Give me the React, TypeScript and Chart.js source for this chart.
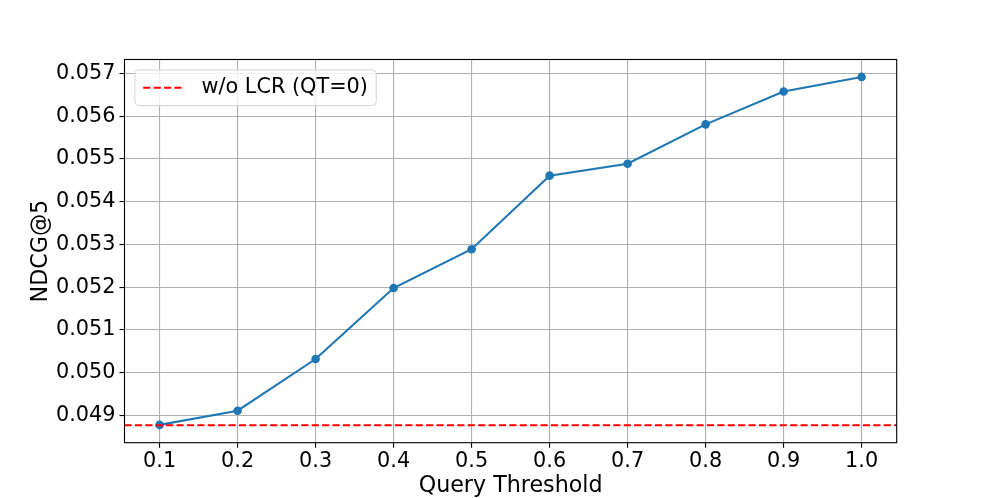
import React, { useEffect, useRef } from "react";
import { Chart, registerables } from "chart.js";

Chart.register(...registerables);

const thresholds = [0.1, 0.2, 0.3, 0.4, 0.5, 0.6, 0.7, 0.8, 0.9, 1.0];
const ndcgValues = [0.04878, 0.04911, 0.05032, 0.05198, 0.05289, 0.05461, 0.05489, 0.05581, 0.05658, 0.05692];
const baselineValue = 0.04877;
const xTickValues = [0.1, 0.2, 0.3, 0.4, 0.5, 0.6, 0.7, 0.8, 0.9, 1.0];
const yTickValues = [0.049, 0.05, 0.051, 0.052, 0.053, 0.054, 0.055, 0.056, 0.057];
const legendLabel = "w/o LCR (QT=0)";
const xTitle = "Query Threshold";
const yTitle = "NDCG@5";

const FONT = '"DejaVu Sans", sans-serif';
const DASH = [7.2, 3.2];

export default function App() {
  const ref = useRef<HTMLCanvasElement | null>(null);

  useEffect(() => {
    document.body.style.margin = "0";
    const canvas = ref.current;
    if (!canvas) return;

    const xr = thresholds[thresholds.length - 1] - thresholds[0];
    const xMin = thresholds[0] - 0.05 * xr;
    const xMax = thresholds[thresholds.length - 1] + 0.05 * xr;
    const allY = [...ndcgValues, baselineValue];
    const yLo = Math.min(...allY);
    const yHi = Math.max(...allY);
    const yr = yHi - yLo;
    const yMin = yLo - 0.05 * yr;
    const yMax = yHi + 0.05 * yr;

    const framePlugin = {
      id: "mplFrame",
      afterDatasetsDraw(chart: any) {
        const { ctx, chartArea } = chart;
        ctx.save();
        ctx.strokeStyle = "#000000";
        ctx.lineWidth = 1.1;
        ctx.strokeRect(chartArea.left, chartArea.top, chartArea.right - chartArea.left, chartArea.bottom - chartArea.top);
        ctx.restore();
      },
      afterDraw(chart: any) {
        const { ctx, chartArea } = chart;
        const fs = 20.8;
        ctx.save();
        ctx.font = `${fs}px ${FONT}`;
        const tw = ctx.measureText(legendLabel).width;
        const pad = 0.4 * fs;
        const handle = 2 * fs;
        const gap = 0.8 * fs;
        const x0 = chartArea.left + 0.5 * fs;
        const y0 = chartArea.top + 0.5 * fs;
        const w = pad + handle + gap + tw + pad;
        const h = 35.7;
        const r = 4;
        ctx.beginPath();
        ctx.moveTo(x0 + r, y0);
        ctx.lineTo(x0 + w - r, y0);
        ctx.arcTo(x0 + w, y0, x0 + w, y0 + r, r);
        ctx.lineTo(x0 + w, y0 + h - r);
        ctx.arcTo(x0 + w, y0 + h, x0 + w - r, y0 + h, r);
        ctx.lineTo(x0 + r, y0 + h);
        ctx.arcTo(x0, y0 + h, x0, y0 + h - r, r);
        ctx.lineTo(x0, y0 + r);
        ctx.arcTo(x0, y0, x0 + r, y0, r);
        ctx.closePath();
        ctx.fillStyle = "rgba(255,255,255,0.8)";
        ctx.fill();
        ctx.strokeStyle = "#d6d6d6";
        ctx.lineWidth = 1;
        ctx.stroke();
        const cy = y0 + h / 2;
        ctx.beginPath();
        ctx.setLineDash(DASH);
        ctx.strokeStyle = "#ff0000";
        ctx.lineWidth = 2.1;
        ctx.moveTo(x0 + pad, cy);
        ctx.lineTo(x0 + pad + handle, cy);
        ctx.stroke();
        ctx.setLineDash([]);
        ctx.fillStyle = "#000000";
        ctx.textBaseline = "middle";
        ctx.textAlign = "left";
        ctx.fillText(legendLabel, x0 + pad + handle + gap, cy);
        ctx.restore();
      },
    };

    const chart = new Chart(canvas, {
      type: "line",
      data: {
        datasets: [
          {
            label: "NDCG@5",
            data: thresholds.map((t, i) => ({ x: t, y: ndcgValues[i] })),
            borderColor: "#1f77b4",
            backgroundColor: "#1f77b4",
            borderWidth: 2.1,
            pointRadius: 4.3,
            pointBorderWidth: 0,
            pointBackgroundColor: "#1f77b4",
            tension: 0,
            order: 1,
          },
          {
            label: legendLabel,
            data: [
              { x: xMin, y: baselineValue },
              { x: xMax, y: baselineValue },
            ],
            borderColor: "#ff0000",
            borderWidth: 2.1,
            borderDash: DASH,
            pointRadius: 0,
            tension: 0,
            order: 0,
          },
        ],
      },
      options: {
        responsive: false,
        animation: false,
        layout: { padding: { left: 0, top: 59.5, right: 99.3, bottom: 0 } },
        plugins: {
          legend: { display: false },
          tooltip: { enabled: false },
        },
        scales: {
          x: {
            type: "linear",
            min: xMin,
            max: xMax,
            afterBuildTicks: (scale: any) => {
              scale.ticks = xTickValues.map((v) => ({ value: v }));
            },
            afterFit: (scale: any) => {
              scale.height = 55.3;
            },
            ticks: {
              font: { family: FONT, size: 20.8 },
              color: "#000000",
              padding: 1,
              maxRotation: 0,
              autoSkip: false,
              callback: (v: any) => Number(v).toFixed(1),
            },
            grid: {
              color: "#b0b0b0",
              lineWidth: 1.1,
              drawTicks: true,
              tickLength: 5,
              tickColor: "#000000",
              tickWidth: 1.1,
            },
            border: { display: false },
            title: {
              display: true,
              text: xTitle,
              color: "#000000",
              font: { family: FONT, size: 22.2 },
              padding: { top: 0, bottom: -1.5 },
            },
          },
          y: {
            type: "linear",
            min: yMin,
            max: yMax,
            afterBuildTicks: (scale: any) => {
              scale.ticks = yTickValues.map((v) => ({ value: v }));
            },
            afterFit: (scale: any) => {
              scale.width = 124.5;
            },
            ticks: {
              font: { family: FONT, size: 20.8 },
              color: "#000000",
              padding: 4,
              autoSkip: false,
              callback: (v: any) => Number(v).toFixed(3),
            },
            grid: {
              color: "#b0b0b0",
              lineWidth: 1.1,
              drawTicks: true,
              tickLength: 5,
              tickColor: "#000000",
              tickWidth: 1.1,
            },
            border: { display: false },
            title: {
              display: true,
              text: yTitle,
              color: "#000000",
              font: { family: FONT, size: 22.2 },
              padding: { top: 27.5, bottom: 0 },
            },
          },
        },
      },
      plugins: [framePlugin],
    });

    return () => {
      chart.destroy();
    };
  }, []);

  return (
    <div style={{ width: 996, height: 498 }}>
      <canvas ref={ref} width={996} height={498} style={{ display: "block" }} />
    </div>
  );
}
